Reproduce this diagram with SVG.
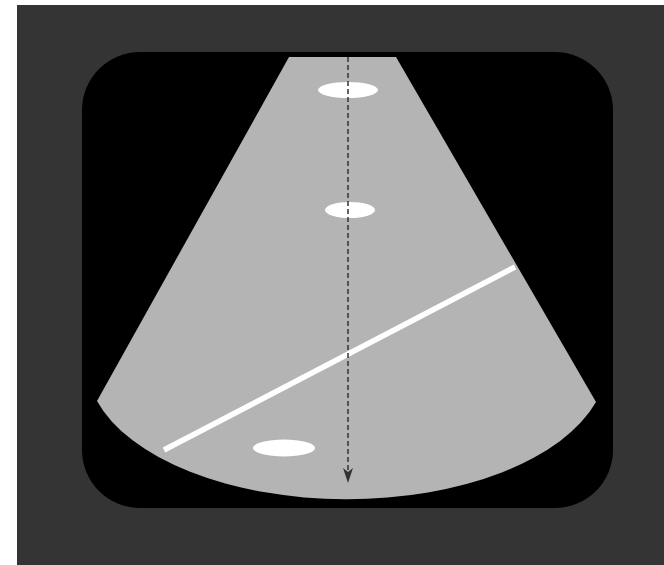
<svg xmlns="http://www.w3.org/2000/svg" width="664" height="565" viewBox="0 0 664 565">
<defs>
<style>
.blob{fill:#ffffff}
.beam{stroke:#333333;stroke-width:1.5;stroke-dasharray:5 3;fill:none}
.head{fill:#333333}
</style>
</defs>
<rect x="0" y="0" width="664" height="565" fill="#ffffff"/>
<rect x="17" y="5" width="647" height="560" fill="#343434"/>
<g id="frame"><rect x="82" y="52" width="531" height="456" rx="58" ry="58" fill="#000000"/></g>
<g id="sector"><path d="M289,57 L396,57 L596,402 A260,136 0 0 1 97,401 Z" fill="#b4b4b4"/></g>
<g id="target1"><ellipse class="blob" cx="348" cy="90" rx="30" ry="8"/></g>
<g id="target2"><ellipse class="blob" cx="350" cy="210" rx="25" ry="8"/></g>
<g id="target3"><ellipse class="blob" cx="284" cy="448" rx="31" ry="8.5"/></g>
<g id="needle"><line x1="164" y1="450" x2="515" y2="267" stroke="#ffffff" stroke-width="5.5"/></g>
<g id="connectors">
<line class="beam" x1="348" y1="57" x2="348" y2="470"/>
<path class="head" d="M343,468 L348,472 L353,468 L348,483 Z"/>
</g>
</svg>
